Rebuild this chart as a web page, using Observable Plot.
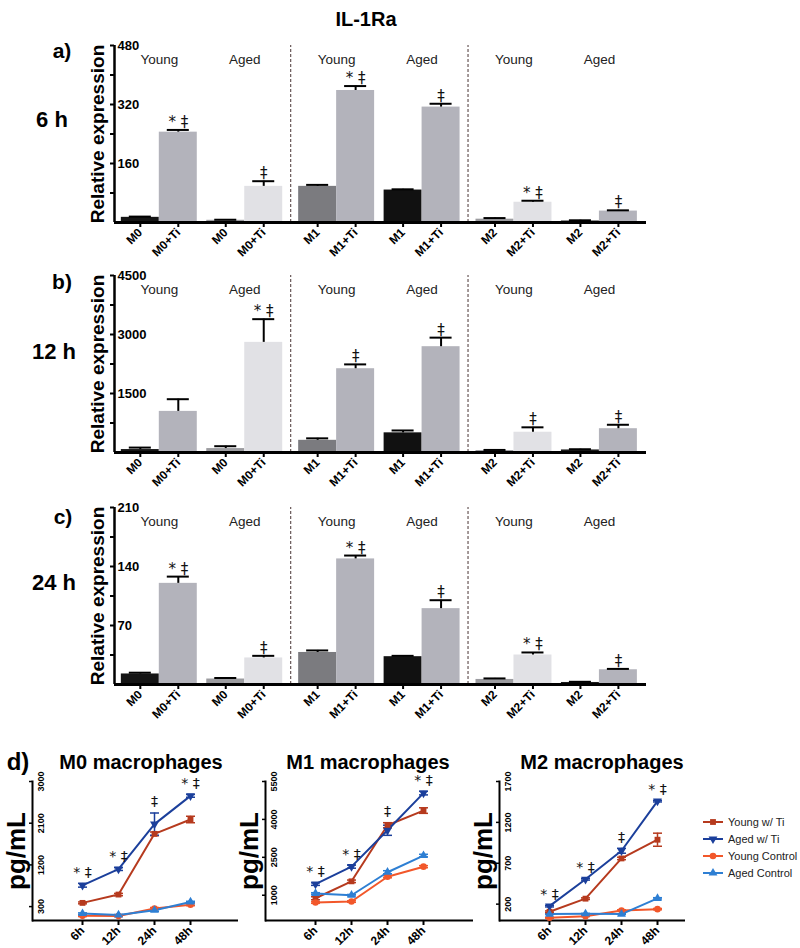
<!DOCTYPE html>
<html>
<head>
<meta charset="utf-8">
<script src="https://cdn.jsdelivr.net/npm/d3@7"></script>
<script src="https://cdn.jsdelivr.net/npm/@observablehq/plot@0.6"></script>
<style>
  body { margin: 0; background: white; }
  #root { position: relative; width: 800px; height: 948px; overflow: hidden; background: white;
          font-family: "Liberation Sans", Arial, Helvetica, sans-serif; color: #000; }
  .lbl { position: absolute; transform: translate(-50%, -50%); line-height: 1; white-space: nowrap; }
  .legend { position: absolute; font-size: 11px; color: #222; white-space: nowrap; }
  .legend .row { display: flex; align-items: center; height: 17px; white-space: nowrap; }
  .legend svg { margin-right: 5px; flex: none; }
</style>
</head>
<body>
<div id="root"></div>
<script>
// ---------------- data ----------------
const barLabels = ["M0","M0+Ti","M0","M0+Ti","M1","M1+Ti","M1","M1+Ti","M2","M2+Ti","M2","M2+Ti"];
const barAge = ["Young","Young","Aged","Aged","Young","Young","Aged","Aged","Young","Young","Aged","Aged"];
const barColors = ["#151515","#b3b3bb","#9c9ca0","#e1e1e5","#7b7b7f","#b3b3bb","#111111","#b3b3bb","#9c9ca0","#e1e1e5","#1c1c1c","#b3b3bb"];

const values6h  = [14, 245, 6, 98, 98, 358, 88, 313, 9, 55, 4, 31];
const errors6h  = [2, 6, 1.5, 14, 4, 12, 2, 9, 3, 4, 2, 2];
const sig6h     = ["", "* ‡", "", "‡", "", "* ‡", "", "‡", "", "* ‡", "", "‡"];

const values12h = [75, 1045, 100, 2800, 310, 2130, 500, 2690, 50, 515, 65, 605];
const errors12h = [50, 310, 60, 590, 50, 110, 60, 230, 15, 125, 18, 100];
const sig12h    = ["", "", "", "* ‡", "", "‡", "", "‡", "", "‡", "", "‡"];

const values24h = [12.5, 120, 6.5, 31.5, 38, 149, 33, 90, 6, 35, 2.4, 17.5];
const errors24h = [1.5, 8, 1.2, 2.5, 2.4, 4, 1, 10, 1.2, 3, 0.8, 1];
const sig24h    = ["", "* ‡", "", "‡", "", "* ‡", "", "‡", "", "* ‡", "", "‡"];

const yMax6h = 480,  tick6h = 80,  label6h = 160;
const yMax12h = 4500, tick12h = 750, label12h = 1500;
const yMax24h = 210, tick24h = 35, label24h = 70;

const times = ["6h","12h","24h","48h"];
const seriesNames = ["Young w/ Ti","Aged w/ Ti","Young Control","Aged Control"];
const seriesColors = ["#b63a1e","#1b3f9b","#f2572a","#2e7fd3"];
const seriesSymbols = ["square","triangle","circle","triangle"];
const seriesRotate = [0, 180, 0, 0];
const sigD = ["* ‡","* ‡","‡","* ‡"];

// rows: Young w/ Ti, Aged w/ Ti, Young Control, Aged Control
const m0Values = [[380, 560, 1870, 2180],[760, 1110, 2080, 2690],[100, 95, 260, 340],[150, 120, 220, 400]];
const m0Errors = [[20, 25, 40, 70],[40, 30, 240, 30],[15, 10, 20, 20],[15, 10, 20, 15]];
const m0Ticks = [300, 1200, 2100, 3000];

const m1Values = [[880, 1550, 3770, 4350],[1440, 2130, 3570, 5040],[710, 750, 1730, 2130],[1070, 1000, 1910, 2570]];
const m1Errors = [[60, 50, 100, 110],[50, 60, 200, 70],[30, 30, 40, 40],[30, 30, 60, 50]];
const m1Ticks = [1000, 2500, 4000, 5500];

const m2Values = [[107, 267, 759, 988],[176, 504, 853, 1460],[33, 53, 123, 139],[78, 82, 78, 271]];
const m2Errors = [[10, 10, 15, 80],[10, 10, 30, 10],[5, 5, 8, 8],[5, 5, 5, 8]];
const m2Ticks = [200, 700, 1200, 1700];

// ---------------- layout helpers ----------------
const root = document.getElementById("root");
const FONT = "Liberation Sans, Arial, Helvetica, sans-serif";
const SIGFONT = "DejaVu Sans, Liberation Sans, sans-serif";

function addLabel(text, cx, cy, size, weight = "bold") {
  const d = document.createElement("div");
  d.className = "lbl";
  d.textContent = text;
  d.style.left = cx + "px";
  d.style.top = cy + "px";
  d.style.fontSize = size + "px";
  d.style.fontWeight = weight;
  root.appendChild(d);
}
function place(svg, left, top) {
  svg.style.position = "absolute";
  svg.style.left = left + "px";
  svg.style.top = top + "px";
  root.appendChild(svg);
}

// error-bar cap drawn as a short horizontal stroke
const capSymbol = {draw(context) { context.moveTo(-4.5, 0); context.lineTo(4.5, 0); }};

// bar slots: bars in pairs, pairs in groups
const PAIR_GAP = 0.25, GROUP_GAP = 0.42;
function slot(i) {
  return i + Math.floor(i / 2) * PAIR_GAP + Math.floor(i / 4) * (GROUP_GAP - PAIR_GAP);
}
const xMin = -0.18;
const xMax = slot(11) + 1 + 0.24;

function barPanel(vals, errs, sigs, yMax, tickStep, labelStep) {
  const rows = barLabels.map((label, i) => ({
    label, age: barAge[i], color: barColors[i], v: vals[i], e: errs[i], sig: sigs[i],
    x1: slot(i), x2: slot(i) + 1, xc: slot(i) + 0.5
  }));
  const pairs = d3.range(6).map(k => ({age: barAge[2 * k], xc: (slot(2 * k) + slot(2 * k + 1) + 1) / 2}));
  const seps = [(slot(3) + 1 + slot(4)) / 2, (slot(7) + 1 + slot(8)) / 2];
  const ticks = d3.range(tickStep, yMax + tickStep / 2, tickStep);
  const labs = d3.range(labelStep, yMax + labelStep / 2, labelStep);
  const centers = rows.map(d => d.xc);
  const nameAt = new Map(rows.map(d => [d.xc, d.label]));
  return Plot.plot({
    width: 660, height: 229,
    marginLeft: 114, marginRight: 14, marginTop: 12, marginBottom: 40,
    style: {fontFamily: FONT, background: "transparent", overflow: "visible", color: "black"},
    x: {domain: [xMin, xMax], label: null},
    y: {domain: [0, yMax], label: null},
    marks: [
      Plot.rectY(rows, {x1: "x1", x2: "x2", y: "v", fill: "color"}),
      Plot.ruleX(rows, {x: "xc", y1: "v", y2: d => d.v + d.e, stroke: "black", strokeWidth: 2}),
      Plot.ruleY(rows, {y: d => d.v + d.e, x1: d => d.xc - 0.29, x2: d => d.xc + 0.29, stroke: "black", strokeWidth: 2}),
      Plot.text(rows.filter(d => d.sig), {x: "xc", y: d => d.v + d.e, text: "sig", dy: -3, lineAnchor: "bottom",
                fontSize: 15, fontFamily: SIGFONT, fill: "#111"}),
      Plot.ruleX(seps, {y1: 0, y2: yMax, stroke: "#5a4848", strokeWidth: 1.1, strokeDasharray: "3,2"}),
      Plot.text(pairs, {x: "xc", y: yMax, text: "age", dy: 14, fontSize: 13.5, fill: "#222"}),
      Plot.axisY({ticks, tickSize: 4, tickFormat: () => "", strokeWidth: 2, label: null}),
      Plot.text(labs, {y: d => d, text: d => String(d), frameAnchor: "left", textAnchor: "start", dx: 3, fontSize: 13, fontWeight: "bold"}),
      Plot.ruleX([xMin], {y1: 0, y2: yMax, stroke: "black", strokeWidth: 2.5}),
      Plot.ruleY([0], {stroke: "black", strokeWidth: 3}),
      Plot.axisX({ticks: centers, tickFormat: d => nameAt.get(d), tickRotate: -45, tickSize: 5, tickPadding: 3,
                  strokeWidth: 2, fontSize: 12, fontWeight: "bold", label: null}),
      Plot.text(["Relative expression"], {frameAnchor: "left", textAnchor: "middle", rotate: -90, dx: -17, fontSize: 19, fontWeight: "bold"})
    ]
  });
}

function linePanel(vals, errs, ticks, yMax, frameW) {
  const rows = [];
  seriesNames.forEach((s, si) => times.forEach((t, ti) => rows.push({s, si, t, v: vals[si][ti], e: errs[si][ti]})));
  const tops = times.map((t, ti) => ({t, top: d3.max(rows.filter(r => r.t === t), r => r.v + r.e), sig: sigD[ti]}));
  const mL = 32, mT = 11, mB = 28, mR = 4;
  return Plot.plot({
    width: mL + frameW + mR, height: mT + 139 + mB,
    marginLeft: mL, marginRight: mR, marginTop: mT, marginBottom: mB,
    style: {fontFamily: FONT, background: "transparent", overflow: "visible", color: "black"},
    x: {type: "point", domain: times, range: [mL + 31, mL + 31 + 145], label: null},
    y: {domain: [0, yMax], label: null},
    color: {domain: seriesNames, range: seriesColors},
    symbol: {domain: seriesNames, range: seriesSymbols},
    marks: [
      Plot.frame({anchor: "left", stroke: "black", strokeWidth: 2}),
      Plot.ruleY([0], {stroke: "black", strokeWidth: 2}),
      Plot.axisY({ticks, tickSize: 3, tickFormat: () => "", strokeWidth: 1.5, label: null}),
      Plot.text(ticks, {y: d => d, text: d => String(d), frameAnchor: "left", textAnchor: "middle", rotate: -90, dx: 9, fontSize: 9, fontWeight: "bold"}),
      Plot.axisX({tickRotate: -45, tickSize: 5, tickPadding: 3, strokeWidth: 2, fontSize: 12, fontWeight: "bold", label: null}),
      Plot.ruleX(rows, {x: "t", y1: d => d.v - d.e, y2: d => d.v + d.e, stroke: "s", strokeWidth: 1.5}),
      Plot.dot(rows, {x: "t", y: d => d.v + d.e, stroke: "s", symbol: capSymbol, strokeWidth: 1.5}),
      Plot.dot(rows, {x: "t", y: d => d.v - d.e, stroke: "s", symbol: capSymbol, strokeWidth: 1.5}),
      Plot.line(rows, {x: "t", y: "v", z: "s", stroke: "s", strokeWidth: 2}),
      Plot.dot(rows, {x: "t", y: "v", fill: "s", symbol: "s", rotate: d => seriesRotate[d.si], r: 3.3}),
      Plot.text(tops, {x: "t", y: "top", text: "sig", dy: -11, fontSize: 14, fontFamily: SIGFONT, fill: "#111"}),
      Plot.text(["pg/mL"], {frameAnchor: "left", textAnchor: "middle", rotate: -90, dx: -16, fontSize: 26, fontWeight: "bold"})
    ]
  });
}

// ---------------- build ----------------
addLabel("IL-1Ra", 366, 19, 20);

place(barPanel(values6h, errors6h, sig6h, yMax6h, tick6h, label6h), 0, 33);
addLabel("a)", 62, 50, 21);
addLabel("6 h", 52, 120, 22);

place(barPanel(values12h, errors12h, sig12h, yMax12h, tick12h, label12h), 0, 263);
addLabel("b)", 62, 281, 21);
addLabel("12 h", 54, 352, 22);

place(barPanel(values24h, errors24h, sig24h, yMax24h, tick24h, label24h), 0, 495);
addLabel("c)", 63, 516, 21);
addLabel("24 h", 54, 583, 22);

addLabel("d)", 18, 762, 24);
place(linePanel(m0Values, m0Errors, m0Ticks, 3000, 206), 0, 770);
addLabel("M0 macrophages", 141, 762, 20);
place(linePanel(m1Values, m1Errors, m1Ticks, 5500, 208), 233, 770);
addLabel("M1 macrophages", 368, 762, 20);
place(linePanel(m2Values, m2Errors, m2Ticks, 1700, 186), 467, 770);
addLabel("M2 macrophages", 602, 762, 20);

// legend
const legend = document.createElement("div");
legend.className = "legend";
legend.style.left = "703px";
legend.style.top = "813px";
seriesNames.forEach((name, i) => {
  const row = document.createElement("div");
  row.className = "row";
  const svg = d3.create("svg").attr("width", 20).attr("height", 12);
  svg.append("line").attr("x1", 0).attr("x2", 20).attr("y1", 6).attr("y2", 6)
    .attr("stroke", seriesColors[i]).attr("stroke-width", 2);
  const sym = {square: d3.symbolSquare, triangle: d3.symbolTriangle, circle: d3.symbolCircle}[seriesSymbols[i]];
  svg.append("path").attr("d", d3.symbol(sym, 34)())
    .attr("transform", `translate(10,6) rotate(${seriesRotate[i]})`).attr("fill", seriesColors[i]);
  row.appendChild(svg.node());
  const t = document.createElement("span");
  t.textContent = name;
  row.appendChild(t);
  legend.appendChild(row);
});
root.appendChild(legend);
</script>
</body>
</html>
